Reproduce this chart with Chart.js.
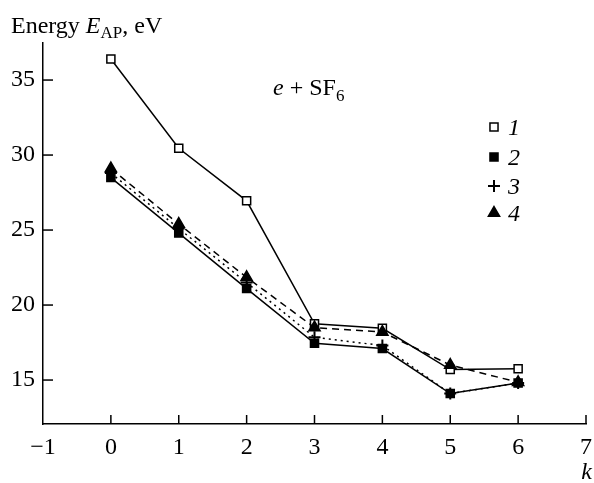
<!DOCTYPE html>
<html>
<head>
<meta charset="utf-8">
<script src="https://cdn.jsdelivr.net/npm/chart.js@4.4.0/dist/chart.umd.min.js"></script>
<style>
  html, body { margin: 0; padding: 0; background: #fff; }
  #wrap { width: 594px; height: 483px; position: relative; }
</style>
</head>
<body>
<div id="wrap"><canvas id="energyChart"></canvas></div>
<script>
// values
const kValues = [0, 1, 2, 3, 4, 5, 6];
const series1 = [36.4, 30.45, 26.95, 18.75, 18.45, 15.7, 15.75];
const series2 = [28.5, 24.8, 21.1, 17.45, 17.1, 14.1, 14.8];
const series3 = [28.8, 25.1, 21.5, 17.85, 17.3, 14.1, 14.8];
const series4 = [29.1, 25.4, 21.85, 18.5, 18.2, 16.0, 14.85];
const seriesLabels = ['1', '2', '3', '4'];
const xTicks = [-1, 0, 1, 2, 3, 4, 5, 6, 7];
const yTicks = [15, 20, 25, 30, 35];

const SERIF = '"Liberation Serif", "DejaVu Serif", serif';
const FONT_SIZE = 24;
const SUB_SIZE = 17;

function toPoints(values) {
    return kValues.map((k, i) => ({ x: k, y: values[i] }));
}

const styles = [
    { pointStyle: 'rect', radius: 5.7, fill: '#fff', dash: [], bw: 1.5 },
    { pointStyle: 'rect', radius: 5.7, fill: '#000', dash: [], bw: 1.5 },
    { pointStyle: 'cross', radius: 6, fill: '#000', dash: [2, 4], bw: 2 },
    { pointStyle: 'triangle', radius: 6.5, fill: '#000', dash: [7, 5], bw: 1.5 }
];

const allSeries = [series1, series2, series3, series4];
const datasets = allSeries.map((vals, i) => ({
    label: seriesLabels[i],
    data: toPoints(vals),
    borderColor: '#000',
    borderWidth: 1.5,
    borderDash: styles[i].dash,
    pointStyle: styles[i].pointStyle,
    pointRadius: styles[i].radius,
    pointBackgroundColor: styles[i].fill,
    pointBorderColor: '#000',
    pointBorderWidth: styles[i].bw,
    fill: false,
    tension: 0
}));
// draw series 1 on top
datasets.reverse();

// inner tick marks, title, annotation and legend
const decorations = {
    id: 'decorations',
    afterDraw(chart) {
        const ctx = chart.ctx;
        const xs = chart.scales.x;
        const ys = chart.scales.y;
        const area = chart.chartArea;
        ctx.save();
        ctx.strokeStyle = '#000';
        ctx.lineWidth = 1.5;
        ctx.setLineDash([]);
        xTicks.forEach(v => {
            if (v === -1) return;
            const px = xs.getPixelForValue(v);
            ctx.beginPath();
            ctx.moveTo(px, area.bottom);
            ctx.lineTo(px, area.bottom - 9);
            ctx.stroke();
        });
        yTicks.forEach(v => {
            const py = ys.getPixelForValue(v);
            ctx.beginPath();
            ctx.moveTo(area.left, py);
            ctx.lineTo(area.left + 10, py);
            ctx.stroke();
        });

        ctx.fillStyle = '#000';
        ctx.textBaseline = 'alphabetic';
        ctx.textAlign = 'left';

        // y axis title: Energy E_AP, eV
        let x = 11;
        const yb = 33;
        ctx.font = FONT_SIZE + 'px ' + SERIF;
        ctx.fillText('Energy ', x, yb);
        x += ctx.measureText('Energy ').width;
        ctx.font = 'italic ' + FONT_SIZE + 'px ' + SERIF;
        ctx.fillText('E', x, yb);
        x += ctx.measureText('E').width;
        ctx.font = SUB_SIZE + 'px ' + SERIF;
        ctx.fillText('AP', x, yb + 5);
        x += ctx.measureText('AP').width;
        ctx.font = FONT_SIZE + 'px ' + SERIF;
        ctx.fillText(', eV', x, yb);

        // x axis title
        ctx.font = 'italic ' + FONT_SIZE + 'px ' + SERIF;
        ctx.textAlign = 'right';
        ctx.fillText('k', 592, 479);
        ctx.textAlign = 'left';

        // reaction label: e + SF6
        x = 273;
        const rb = 95;
        ctx.font = 'italic ' + FONT_SIZE + 'px ' + SERIF;
        ctx.fillText('e', x, rb);
        x += ctx.measureText('e').width;
        ctx.font = FONT_SIZE + 'px ' + SERIF;
        ctx.fillText(' + SF', x, rb);
        x += ctx.measureText(' + SF').width;
        ctx.font = SUB_SIZE + 'px ' + SERIF;
        ctx.fillText('6', x, rb + 6);

        // legend
        const rows = [127, 157, 186, 213];
        styles.forEach((s, i) => {
            const cy = rows[i];
            ctx.fillStyle = s.fill;
            ctx.strokeStyle = '#000';
            ctx.lineWidth = s.bw;
            Chart.helpers.drawPoint(ctx, {
                pointStyle: s.pointStyle,
                radius: s.radius,
                borderWidth: s.bw,
                rotation: 0
            }, 494, cy);
            ctx.fillStyle = '#000';
            ctx.font = 'italic ' + FONT_SIZE + 'px ' + SERIF;
            ctx.fillText(seriesLabels[i], 508, cy + 8);
        });
        ctx.restore();
    }
};

const ctx = document.getElementById('energyChart').getContext('2d');
new Chart(ctx, {
    type: 'line',
    data: { datasets: datasets },
    options: {
        responsive: true,
        maintainAspectRatio: false,
        animation: false,
        layout: { padding: { top: 43, right: 7, left: 0, bottom: 0 } },
        plugins: {
            legend: { display: false },
            tooltip: { enabled: false }
        },
        scales: {
            x: {
                type: 'linear',
                min: -1,
                max: 7,
                grid: { display: false, drawTicks: false },
                border: { display: true, color: '#000', width: 1.5 },
                afterBuildTicks: scale => { scale.ticks = xTicks.map(v => ({ value: v })); },
                afterFit: scale => {
                    scale.height = 59;
                    scale.paddingLeft = 0;
                    scale.paddingRight = 0;
                },
                ticks: {
                    autoSkip: false,
                    maxRotation: 0,
                    padding: 9,
                    color: '#000',
                    font: { family: SERIF, size: FONT_SIZE },
                    callback: v => (v < 0 ? '\u2212' + Math.abs(v) : String(v))
                }
            },
            y: {
                type: 'linear',
                min: 12.07,
                max: 37.47,
                grid: { display: false, drawTicks: false },
                border: { display: true, color: '#000', width: 1.5 },
                afterBuildTicks: scale => { scale.ticks = yTicks.map(v => ({ value: v })); },
                afterFit: scale => {
                    scale.width = 43;
                    scale.paddingTop = 0;
                    scale.paddingBottom = 0;
                },
                ticks: {
                    padding: 8,
                    color: '#000',
                    font: { family: SERIF, size: FONT_SIZE },
                    callback: v => String(v)
                }
            }
        }
    },
    plugins: [decorations]
});
</script>
</body>
</html>
